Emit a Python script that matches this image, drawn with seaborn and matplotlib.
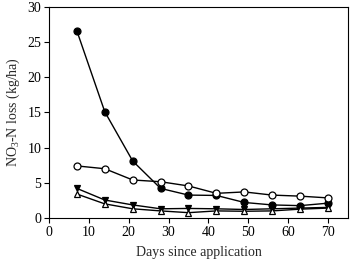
import pandas as pd
import matplotlib
matplotlib.use('Agg')
import matplotlib.pyplot as plt
import seaborn as sns

# dados
dias = [7, 14, 21, 28, 35, 42, 49, 56, 63, 70]
circulo_cheio = [26.6, 15.1, 8.1, 4.2, 3.25, 3.2, 2.2, 1.85, 1.75, 2.1]
circulo_aberto = [7.4, 7.0, 5.4, 5.15, 4.55, 3.5, 3.7, 3.25, 3.1, 2.85]
tri_baixo = [4.2, 2.55, 1.85, 1.3, 1.35, 1.3, 1.2, 1.3, 1.4, 1.5]
tri_cima = [3.4, 2.0, 1.3, 1.0, 0.75, 1.0, 0.95, 1.0, 1.25, 1.4]

sns.set_theme(style="ticks")
plt.rcParams['font.family'] = ['Liberation Serif', 'DejaVu Serif']
plt.rcParams['mathtext.fontset'] = 'custom'
plt.rcParams['mathtext.rm'] = 'Liberation Serif'
plt.rcParams['mathtext.it'] = 'Liberation Serif'
plt.rcParams['mathtext.default'] = 'regular'

fig = plt.figure(figsize=(3.5, 2.61), dpi=100)
ax = fig.add_axes([0.14, 0.165, 0.854, 0.808])

series = [
    (circulo_cheio, 'o', 'black'),
    (circulo_aberto, 'o', 'white'),
    (tri_baixo, 'v', 'black'),
    (tri_cima, '^', 'white'),
]
for valores, marcador, preenchimento in series:
    df = pd.DataFrame({'dias': dias, 'valor': valores})
    sns.lineplot(data=df, x='dias', y='valor', ax=ax, color='black', linewidth=1,
                 marker=marcador, markersize=5, markerfacecolor=preenchimento,
                 markeredgecolor='black', markeredgewidth=0.9)

ax.set_xlim(0, 75)
ax.set_ylim(0, 30)
ax.set_xticks(range(0, 71, 10))
ax.set_yticks(range(0, 31, 5))
ax.tick_params(direction='out', length=3.5, width=0.8, labelsize=10, pad=2, colors='black')
for s in ax.spines.values():
    s.set_linewidth(0.8)
    s.set_color('black')
ax.set_xlabel('Days since application', fontsize=10, labelpad=5)
ax.set_ylabel(r'NO$_3$-N loss (kg/ha)', fontsize=10, labelpad=4)

fig.savefig('out.png', dpi=100)
